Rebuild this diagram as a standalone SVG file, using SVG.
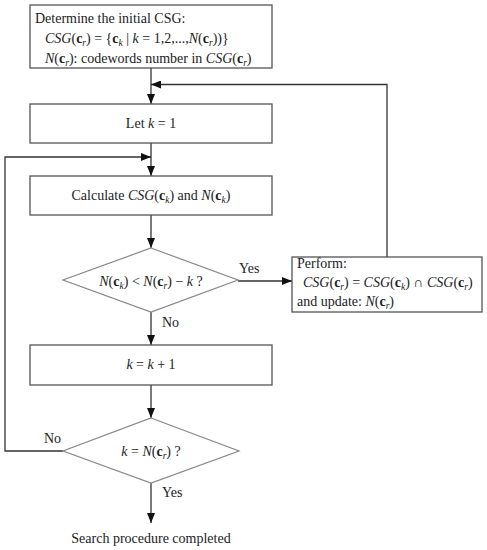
<svg xmlns="http://www.w3.org/2000/svg" width="487" height="550" viewBox="0 0 487 550">
<style>
text{font-family:"Liberation Serif","Times New Roman",serif;font-size:14px;fill:#222}
.box{fill:#fff;stroke:#555;stroke-width:1.3}
.dia{fill:#fff;stroke:#888;stroke-width:1.2}
.ln{fill:none;stroke:#333;stroke-width:1.3}
.i{font-style:italic}
.b{font-weight:bold}
.s{font-size:9.5px;font-style:italic}
</style>
<defs>
<marker id="ah" viewBox="0 0 10 8" refX="10" refY="4" markerWidth="10" markerHeight="8" markerUnits="userSpaceOnUse" orient="auto">
<path d="M0,0 L10,4 L0,8 Z" fill="#111"/>
</marker>
</defs>
<g id="connectors">
<line class="ln" x1="151" y1="68" x2="151" y2="104" marker-end="url(#ah)"/>
<polyline class="ln" points="387,257 387,84.5 151,84.5" marker-end="url(#ah)"/>
<line class="ln" x1="151" y1="143" x2="151" y2="176" marker-end="url(#ah)"/>
<polyline class="ln" points="63,451 5,451 5,157 151,157" marker-end="url(#ah)"/>
<line class="ln" x1="151" y1="215" x2="151" y2="248" marker-end="url(#ah)"/>
<line class="ln" x1="238" y1="281" x2="292" y2="281" marker-end="url(#ah)"/>
<line class="ln" x1="151" y1="312" x2="151" y2="345" marker-end="url(#ah)"/>
<line class="ln" x1="151" y1="385" x2="151" y2="418" marker-end="url(#ah)"/>
<line class="ln" x1="151" y1="483" x2="151" y2="523" marker-end="url(#ah)"/>
<text x="239" y="273">Yes</text>
<text x="162" y="327">No</text>
<text x="44" y="443">No</text>
<text x="162" y="497">Yes</text>
</g>
<g id="init">
<rect class="box" x="30" y="5" width="242" height="63"/>
<text x="35" y="23">Determine the initial CSG:</text>
<text x="45" y="43"><tspan class="i">CSG</tspan>(<tspan class="b">c</tspan><tspan class="s" dy="3">r</tspan><tspan dy="-3">) = {</tspan><tspan class="b">c</tspan><tspan class="s" dy="3">k</tspan><tspan dy="-3"> | </tspan><tspan class="i">k</tspan> = 1,2,...,<tspan class="i">N</tspan>(<tspan class="b">c</tspan><tspan class="s" dy="3">r</tspan><tspan dy="-3">))}</tspan></text>
<text x="45" y="63"><tspan class="i">N</tspan>(<tspan class="b">c</tspan><tspan class="s" dy="3">r</tspan><tspan dy="-3">): codewords number in </tspan><tspan class="i">CSG</tspan>(<tspan class="b">c</tspan><tspan class="s" dy="3">r</tspan><tspan dy="-3">)</tspan></text>
</g>
<g id="letk">
<rect class="box" x="30" y="104" width="242" height="39"/>
<text x="151" y="128" text-anchor="middle">Let <tspan class="i">k</tspan> = 1</text>
</g>
<g id="calc">
<rect class="box" x="30" y="176" width="242" height="39"/>
<text x="151" y="200" text-anchor="middle">Calculate <tspan class="i">CSG</tspan>(<tspan class="b">c</tspan><tspan class="s" dy="3">k</tspan><tspan dy="-3">) and </tspan><tspan class="i">N</tspan>(<tspan class="b">c</tspan><tspan class="s" dy="3">k</tspan><tspan dy="-3">)</tspan></text>
</g>
<g id="cond1">
<polygon class="dia" points="151,248 238,280 151,312 63,280"/>
<text x="151" y="286" text-anchor="middle"><tspan class="i">N</tspan>(<tspan class="b">c</tspan><tspan class="s" dy="3">k</tspan><tspan dy="-3">) &lt; </tspan><tspan class="i">N</tspan>(<tspan class="b">c</tspan><tspan class="s" dy="3">r</tspan><tspan dy="-3">) − </tspan><tspan class="i">k</tspan> ?</text>
</g>
<g id="perform">
<rect class="box" x="292" y="257" width="190" height="55"/>
<text x="297" y="268">Perform:</text>
<text x="303" y="287"><tspan class="i">CSG</tspan>(<tspan class="b">c</tspan><tspan class="s" dy="3">r</tspan><tspan dy="-3">) = </tspan><tspan class="i">CSG</tspan>(<tspan class="b">c</tspan><tspan class="s" dy="3">k</tspan><tspan dy="-3">) ∩ </tspan><tspan class="i">CSG</tspan>(<tspan class="b">c</tspan><tspan class="s" dy="3">r</tspan><tspan dy="-3">)</tspan></text>
<text x="297" y="306">and update: <tspan class="i">N</tspan>(<tspan class="b">c</tspan><tspan class="s" dy="3">r</tspan><tspan dy="-3">)</tspan></text>
</g>
<g id="inc">
<rect class="box" x="30" y="345" width="242" height="40"/>
<text x="151" y="369" text-anchor="middle"><tspan class="i">k</tspan> = <tspan class="i">k</tspan> + 1</text>
</g>
<g id="cond2">
<polygon class="dia" points="151,418 239,451 151,483 63,451"/>
<text x="151" y="456" text-anchor="middle"><tspan class="i">k</tspan> = <tspan class="i">N</tspan>(<tspan class="b">c</tspan><tspan class="s" dy="3">r</tspan><tspan dy="-3">) ?</tspan></text>
</g>
<g id="done">
<text x="151" y="543" text-anchor="middle">Search procedure completed</text>
</g>
</svg>
